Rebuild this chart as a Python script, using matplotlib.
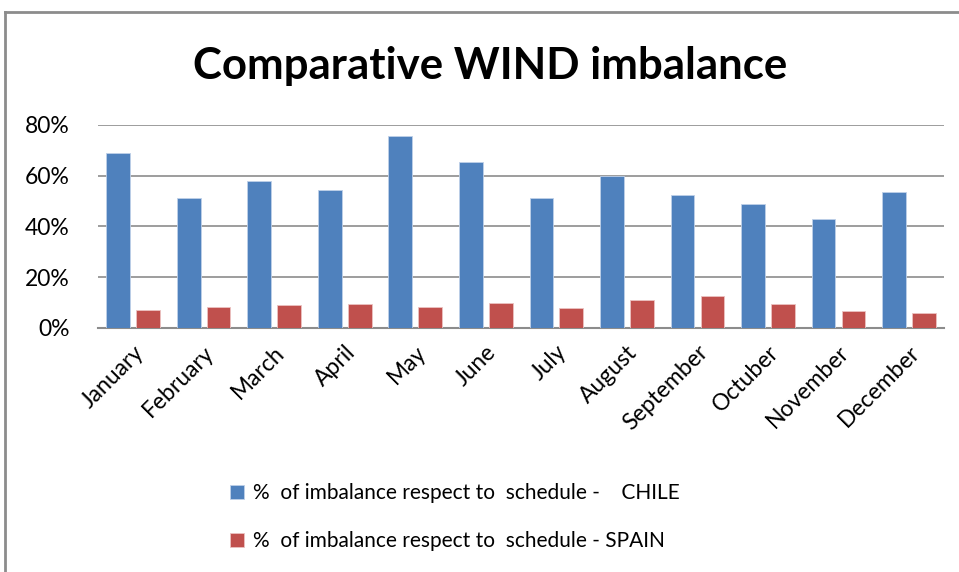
"""
    Comparative WIND imbalance - grouped bars
"""
import numpy as np
from matplotlib import pyplot as plt
from matplotlib.lines import Line2D
from matplotlib.ticker import PercentFormatter

months = ["January", "February", "March", "April", "May", "June",
          "July", "August", "September", "Octuber", "November", "December"]
chile = [68.9, 51.3, 57.9, 54.3, 75.7, 65.4, 51.3, 59.7, 52.2, 48.7, 42.8, 53.4]
spain = [7.2, 8.3, 8.8, 9.3, 8.3, 9.9, 7.8, 10.8, 12.4, 9.3, 6.8, 5.8]

label_chile = "%  of imbalance respect to  schedule -    CHILE"
label_spain = "%  of imbalance respect to  schedule - SPAIN"

plt.rcParams['font.family'] = ['Lato', 'DejaVu Sans']

fig = plt.figure(figsize=(9.59, 5.72), dpi=100)
ax = fig.add_axes([0.1019, 0.427, 0.8825, 0.3545])

x = np.arange(len(months))
w = 0.335
ax.bar(x - 0.21, np.array(chile) / 100, w, color="#4F81BD",
       edgecolor="#BFD0E8", linewidth=0.6, label=label_chile, zorder=3)
ax.bar(x + 0.215, np.array(spain) / 100, w, color="#C0504D",
       edgecolor="#EBC2C1", linewidth=0.6, label=label_spain, zorder=3)

ax.set_xlim(-0.5, len(months) - 0.5)
ax.set_ylim(0, 0.8)
ax.set_yticks([0, 0.2, 0.4, 0.6, 0.8])
ax.yaxis.set_major_formatter(PercentFormatter(1.0, decimals=0))
ax.grid(axis="y", color="#8C8C8C", linewidth=1.2, zorder=0)

for s in ["top", "right", "left"]:
    ax.spines[s].set_visible(False)
ax.spines["bottom"].set_color("#8C8C8C")
ax.spines["bottom"].set_linewidth(1.5)

ax.set_xticks(x)
ax.set_xticklabels(months, rotation=45, ha="right", rotation_mode="anchor",
                   fontsize=16.5)
ax.tick_params(axis="x", length=0, pad=10)
ax.tick_params(axis="y", length=0, labelsize=16.5, pad=20)

fig.text(0.511, 0.885, "Comparative WIND imbalance", ha="center", va="center",
         fontsize=31.5, fontweight="bold")

fig.legend(loc="upper left", bbox_to_anchor=(0.22, 0.188), frameon=False,
           fontsize=15, handlelength=0.7, handleheight=0.7, handletextpad=0.4,
           labelspacing=1.35)

# chart frame (top and left edges)
fig.add_artist(Line2D([5 / 959, 5 / 959], [0, 1 - 12 / 572], color="#8C8C8C",
                      linewidth=2, transform=fig.transFigure))
fig.add_artist(Line2D([5 / 959, 1], [1 - 12 / 572, 1 - 12 / 572], color="#8C8C8C",
                      linewidth=2, transform=fig.transFigure))

plt.savefig("out.png", dpi=100)
